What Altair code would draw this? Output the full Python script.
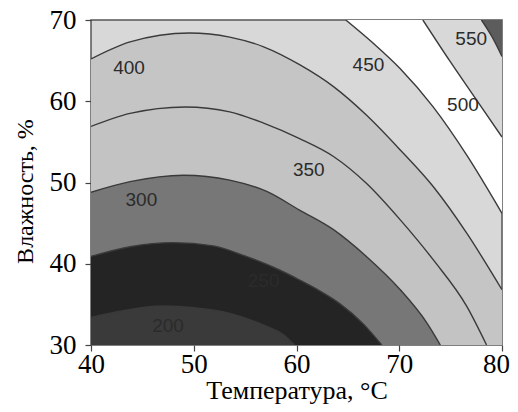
import altair as alt
import pandas as pd

# ---- data ----
temp_ticks = [40, 50, 60, 70, 80]
hum_ticks = [30, 40, 50, 60, 70]

# contour lines (temperature, humidity)
c200_x = [40, 43, 47, 50, 53.5, 55.5, 57.1, 58.7, 59.8]
c200_y = [33.4, 34.2, 34.8, 34.6, 33.9, 33.1, 32.3, 31.3, 30]

c250_x = [40, 43.8, 48, 51.9, 55.1, 58.4, 60.3, 62.2, 64.2, 66.5, 68.3]
c250_y = [40.9, 42.1, 42.6, 42.2, 40.9, 39.2, 38.0, 36.7, 35.1, 32.6, 30]

c300_x = [40, 43.8, 49, 53.5, 57.1, 60.3, 63.6, 66.8, 70.1, 72.7, 74.0]
c300_y = [48.8, 50.1, 50.9, 50.3, 48.9, 46.6, 44.2, 40.9, 36.8, 32.7, 30]

c350_x = [40, 43.8, 49.2, 53.5, 56.8, 60.3, 63.6, 66.8, 70.1, 73.3, 76.6, 78.5]
c350_y = [56.9, 58.5, 59.3, 58.7, 57.3, 55.4, 53.2, 49.9, 45.4, 40.5, 34.7, 30]

c400_x = [40, 43.8, 49.6, 53.5, 56.8, 60.3, 63.6, 66.8, 70.1, 73.3, 76.6, 80]
c400_y = [65.2, 67.3, 68.4, 67.9, 66.7, 64.5, 61.8, 58.3, 54.0, 49.5, 43.7, 36.8]

c450_x = [64.8, 67.5, 70.1, 73.3, 76.6, 80]
c450_y = [70, 67.1, 64.0, 59.3, 53.3, 46.2]

c500_x = [72.3, 74.9, 77.5, 80]
c500_y = [70, 65.0, 60.2, 55.6]

c550_x = [78.0, 79.0, 80]
c550_y = [70, 68.0, 65.5]

label_text = ["200", "250", "300", "350", "400", "450", "500", "550"]
label_x = [47.5, 56.8, 44.9, 61.2, 43.7, 67.0, 76.2, 77.0]
label_y = [32.3, 37.9, 47.8, 51.5, 64.1, 64.5, 59.5, 67.7]

# ---- styling ----
SERIF = "Liberation Serif"
LINE_COLOR = "#3a3a3a"

X = alt.X("x:Q", scale=alt.Scale(domain=[40, 80], nice=False),
          axis=alt.Axis(values=temp_ticks, title="Температура, °C", format="d",
                        labelFont=SERIF, labelFontSize=27, labelColor="#000000",
                        labelPadding=0, labelFlush=False,
                        labelOffset={"condition": {"test": "datum.value === 80", "value": -6},
                                     "value": 0},
                        titleFont=SERIF, titleFontSize=26, titlePadding=0))
Y = alt.Y("y:Q", scale=alt.Scale(domain=[30, 70], nice=False),
          axis=alt.Axis(values=hum_ticks, title="Влажность, %", format="d",
                        labelFont=SERIF, labelFontSize=27, labelColor="#000000",
                        labelPadding=9,
                        titleFont=SERIF, titleFontSize=24, titlePadding=12, titleY=171))


def curve_df(xs, ys):
    return pd.DataFrame({"x": xs, "y": ys})


# curves below the lightest band: fill from the curve down to 30
lower = [
    (c400_x, c400_y, "#c5c5c5"),
    (c350_x, c350_y, "#c3c3c3"),
    (c300_x, c300_y, "#777777"),
    (c250_x, c250_y, "#242424"),
    (c200_x, c200_y, "#3a3a3a"),
]
# curves above the lightest band: fill from the curve up to 70
upper = [
    (c450_x, c450_y, "#ffffff"),
    (c500_x, c500_y, "#d8d8d8"),
    (c550_x, c550_y, "#5c5c5c"),
]

layers = []
for xs, ys, col in lower:
    layers.append(
        alt.Chart(curve_df(xs, ys)).mark_area(interpolate="monotone", color=col, clip=True)
        .encode(x=X, y=Y, y2=alt.datum(30))
    )
for xs, ys, col in upper:
    layers.append(
        alt.Chart(curve_df(xs, ys)).mark_area(interpolate="monotone", color=col, clip=True)
        .encode(x=X, y=Y, y2=alt.datum(70))
    )
for xs, ys in [(c200_x, c200_y), (c250_x, c250_y), (c300_x, c300_y), (c350_x, c350_y),
               (c400_x, c400_y), (c450_x, c450_y), (c500_x, c500_y), (c550_x, c550_y)]:
    layers.append(
        alt.Chart(curve_df(xs, ys)).mark_line(interpolate="monotone", color=LINE_COLOR,
                                              strokeWidth=1.4, clip=True)
        .encode(x=X, y=Y)
    )

labels = pd.DataFrame({"x": label_x, "y": label_y, "t": label_text})
layers.append(
    alt.Chart(labels).mark_text(font="Liberation Sans", fontSize=19, color="#2b2b2b")
    .encode(x=X, y=Y, text="t:N")
)

chart = (
    alt.layer(*layers)
    .properties(width=411, height=325,
                padding={"left": 83, "top": 12, "right": 8, "bottom": 59},
                autosize=alt.AutoSizeParams(type="none"))
    .configure_view(stroke="#555555", strokeWidth=1.5, fill="#d8d8d8")
    .configure_axis(grid=False, domain=False, tickSize=6, tickColor="#444444",
                    tickWidth=1.2, labelFont=SERIF, labelFontSize=27, labelColor="#000000",
                    titleFont=SERIF, titleFontSize=26, titleFontWeight="normal",
                    titleColor="#000000")
)

chart.save("out.html", embed_options={"renderer": "svg", "actions": False})
